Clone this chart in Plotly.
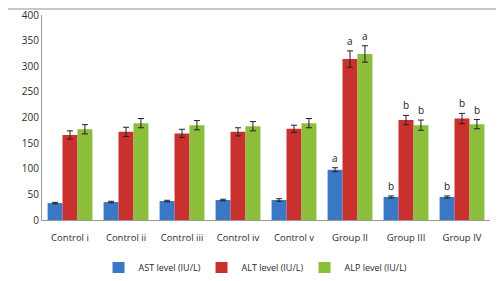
import plotly.graph_objects as go

categories = ["Control i", "Control ii", "Control iii", "Control iv", "Control v", "Group II", "Group III", "Group IV"]
ast = [33, 35, 37, 39, 39, 98, 45, 45]
alt = [166, 172, 169, 172, 178, 314, 195, 198]
alp = [177, 189, 185, 183, 189, 324, 185, 187]
ast_err = [1.5, 1.5, 1.5, 1.5, 2.5, 4, 2, 2]
alt_err = [8, 9, 8, 8, 7, 16, 9, 10]
alp_err = [9, 9, 9, 9, 9, 16, 10, 9]
ast_sig = ["", "", "", "", "", "a", "b", "b"]
alt_sig = ["", "", "", "", "", "a", "b", "b"]
alp_sig = ["", "", "", "", "", "a", "b", "b"]

series = [
    ("AST level (IU/L)", ast, ast_err, ast_sig, "#3a78c6"),
    ("ALT level (IU/L)", alt, alt_err, alt_sig, "#c9302e"),
    ("ALP level (IU/L)", alp, alp_err, alp_sig, "#8cbd3b"),
]

font = "Open Sans"
fig = go.Figure()
bargap = 0.2
w = (1 - bargap) / 3
annotations = []
for k, (name, vals, errs, sigs, color) in enumerate(series):
    fig.add_trace(go.Bar(
        x=categories, y=vals, name=name,
        marker=dict(color=color, line=dict(width=0)),
        error_y=dict(type="data", array=errs, color="#222222", thickness=1, width=3),
    ))
    for i, (v, e, s) in enumerate(zip(vals, errs, sigs)):
        if s:
            annotations.append(dict(
                x=i + (k - 1) * w, y=v + e, xref="x", yref="y",
                text=s, showarrow=False, yanchor="bottom", yshift=1,
                font=dict(family=font, size=10, color="#222222"),
            ))

fig.update_layout(
    width=488, height=265,
    margin=dict(l=34, r=6, t=7, b=53, autoexpand=False),
    paper_bgcolor="white", plot_bgcolor="white",
    barmode="group", bargap=bargap, bargroupgap=0,
    font=dict(family=font, size=9, color="#333333"),
    showlegend=True,
    legend=dict(orientation="h", x=0.471, xanchor="center",
                y=-0.234, yanchor="middle",
                font=dict(family=font, size=9, color="#2a2a2a"),
                entrywidth=58, entrywidthmode="pixels",
                itemwidth=30, traceorder="normal"),
    annotations=annotations,
    shapes=[dict(type="line", xref="paper", yref="paper",
                 x0=-0.076, x1=1.013, y0=1.029, y1=1.029,
                 line=dict(color="#c8c8c8", width=2))],
)
fig.update_xaxes(showline=True, linecolor="#999999", linewidth=1, ticks="",
                 ticklabelstandoff=9, tickangle=0, automargin=False,
                 tickfont=dict(family=font, size=9.5, color="#2a2a2a"), showgrid=False)
fig.update_yaxes(range=[0, 400], dtick=50, showline=True, linecolor="#999999", linewidth=1,
                 ticks="", showgrid=False, zeroline=False, ticklabeloverflow="allow",
                 automargin=False,
                 tickfont=dict(family=font, size=10, color="#2a2a2a"))

fig.write_html("out.html")
